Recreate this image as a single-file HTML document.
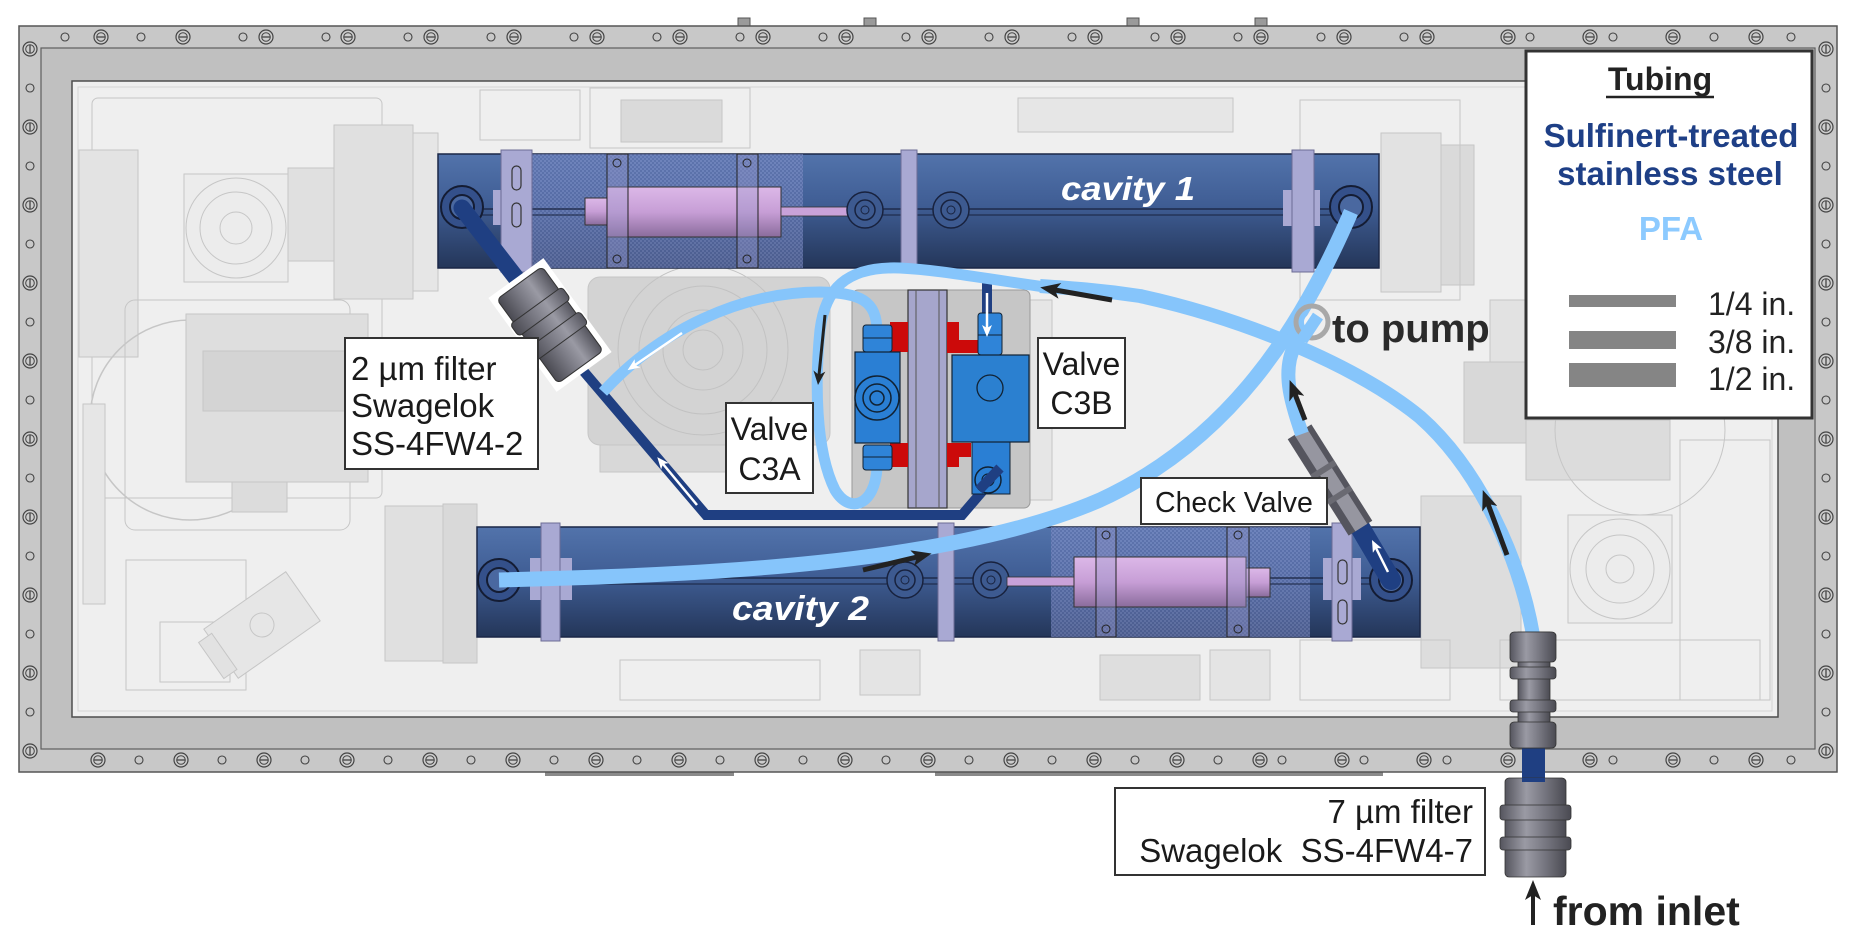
<!DOCTYPE html>
<html><head><meta charset="utf-8"><style>
html,body{margin:0;padding:0;background:#fff;}
svg{display:block;}
text{font-family:"Liberation Sans",Arial,sans-serif;}
</style></head><body>
<svg width="1856" height="945" viewBox="0 0 1856 945" xmlns="http://www.w3.org/2000/svg">
<defs>
<linearGradient id="cav" x1="0" y1="0" x2="0" y2="1">
<stop offset="0" stop-color="#5273ab"/><stop offset="0.45" stop-color="#3f5d94"/><stop offset="1" stop-color="#243659"/>
</linearGradient>
<linearGradient id="pink" x1="0" y1="0" x2="0" y2="1">
<stop offset="0" stop-color="#dcb8e8"/><stop offset="0.5" stop-color="#c79ed6"/><stop offset="1" stop-color="#8a6c9c"/>
</linearGradient>
<linearGradient id="metal" x1="0" y1="0" x2="1" y2="0">
<stop offset="0" stop-color="#55555e"/><stop offset="0.35" stop-color="#9a9aa4"/><stop offset="0.6" stop-color="#7c7c86"/><stop offset="1" stop-color="#4a4a52"/>
</linearGradient>
<linearGradient id="metalv" x1="0" y1="0" x2="0" y2="1">
<stop offset="0" stop-color="#55555e"/><stop offset="0.35" stop-color="#9a9aa4"/><stop offset="0.6" stop-color="#7c7c86"/><stop offset="1" stop-color="#4a4a52"/>
</linearGradient>
<pattern id="hatch" width="4" height="4" patternUnits="userSpaceOnUse"><rect width="4" height="4" fill="#6676b0"/><rect width="2" height="2" fill="#8290c8"/><rect x="2" y="2" width="2" height="2" fill="#8290c8"/></pattern>
<marker id="mb" viewBox="0 0 20 16" refX="5" refY="8" markerWidth="20" markerHeight="16" markerUnits="userSpaceOnUse" orient="auto"><path d="M0,0 L20,8 L0,16 L5,8 z" fill="#222"/></marker>
<marker id="mbs" viewBox="0 0 14 12" refX="4" refY="6" markerWidth="14" markerHeight="12" markerUnits="userSpaceOnUse" orient="auto"><path d="M0,0 L14,6 L0,12 L4,6 z" fill="#222"/></marker>
<marker id="mw" viewBox="0 0 12 10" refX="3" refY="5" markerWidth="12" markerHeight="10" markerUnits="userSpaceOnUse" orient="auto"><path d="M0,0 L12,5 L0,10 L3,5 z" fill="#fff"/></marker>
<g id="bh"><circle r="7" fill="#cdcdcd" stroke="#444" stroke-width="1.2"/><circle r="4.3" fill="none" stroke="#444" stroke-width="1"/><line x1="-4" x2="4" y1="0" y2="0" stroke="#444" stroke-width="1.3"/></g>
<g id="bv"><circle r="7" fill="#cdcdcd" stroke="#444" stroke-width="1.2"/><circle r="4.3" fill="none" stroke="#444" stroke-width="1"/><line y1="-4" y2="4" x1="0" x2="0" stroke="#444" stroke-width="1.3"/></g>
<circle id="o" r="4" fill="none" stroke="#444" stroke-width="1.1"/>
</defs>

<rect width="1856" height="945" fill="#fff"/>

<!-- small nubs above frame -->
<g fill="#9a9a9a" stroke="#555" stroke-width="1">
<rect x="738" y="18" width="12" height="8"/><rect x="864" y="18" width="12" height="8"/><rect x="1127" y="18" width="12" height="8"/><rect x="1255" y="18" width="12" height="8"/>
</g>
<!-- strips below frame -->
<rect x="545" y="772" width="189" height="4" fill="#8a8a8a"/>
<rect x="935" y="772" width="448" height="4" fill="#8a8a8a"/>

<!-- FRAME -->
<rect x="19" y="26" width="1818" height="746" fill="#c8c8c8" stroke="#555" stroke-width="1.5"/>
<rect x="41" y="48" width="1774" height="701" fill="#c0c0c0" stroke="#5e5e5e" stroke-width="1.2"/>
<rect x="72" y="81" width="1706" height="636" fill="#efefef" stroke="#4e4e4e" stroke-width="1.5"/>
<rect x="78" y="87" width="1694" height="624" fill="none" stroke="#d4d4d4" stroke-width="1"/>

<!-- bolts top -->
<g>
<use href="#o" x="65" y="37"/><use href="#o" x="141" y="37"/><use href="#o" x="243" y="37"/><use href="#o" x="326" y="37"/><use href="#o" x="408" y="37"/><use href="#o" x="491" y="37"/><use href="#o" x="574" y="37"/><use href="#o" x="657" y="37"/><use href="#o" x="740" y="37"/><use href="#o" x="823" y="37"/><use href="#o" x="906" y="37"/><use href="#o" x="989" y="37"/><use href="#o" x="1072" y="37"/><use href="#o" x="1155" y="37"/><use href="#o" x="1238" y="37"/><use href="#o" x="1321" y="37"/><use href="#o" x="1404" y="37"/><use href="#o" x="1530" y="37"/><use href="#o" x="1613" y="37"/><use href="#o" x="1714" y="37"/><use href="#o" x="1791" y="37"/>
<use href="#bh" x="101" y="37"/><use href="#bh" x="183" y="37"/><use href="#bh" x="266" y="37"/><use href="#bh" x="348" y="37"/><use href="#bh" x="431" y="37"/><use href="#bh" x="514" y="37"/><use href="#bh" x="597" y="37"/><use href="#bh" x="680" y="37"/><use href="#bh" x="763" y="37"/><use href="#bh" x="846" y="37"/><use href="#bh" x="929" y="37"/><use href="#bh" x="1012" y="37"/><use href="#bh" x="1095" y="37"/><use href="#bh" x="1178" y="37"/><use href="#bh" x="1261" y="37"/><use href="#bh" x="1344" y="37"/><use href="#bh" x="1427" y="37"/><use href="#bh" x="1508" y="37"/><use href="#bh" x="1590" y="37"/><use href="#bh" x="1673" y="37"/><use href="#bh" x="1756" y="37"/>
</g>
<!-- bolts bottom -->
<g>
<use href="#bh" x="98" y="760"/><use href="#bh" x="181" y="760"/><use href="#bh" x="264" y="760"/><use href="#bh" x="347" y="760"/><use href="#bh" x="430" y="760"/><use href="#bh" x="513" y="760"/><use href="#bh" x="596" y="760"/><use href="#bh" x="679" y="760"/><use href="#bh" x="762" y="760"/><use href="#bh" x="845" y="760"/><use href="#bh" x="928" y="760"/><use href="#bh" x="1011" y="760"/><use href="#bh" x="1094" y="760"/><use href="#bh" x="1177" y="760"/><use href="#bh" x="1260" y="760"/><use href="#bh" x="1342" y="760"/><use href="#bh" x="1424" y="760"/><use href="#bh" x="1508" y="760"/><use href="#bh" x="1590" y="760"/><use href="#bh" x="1673" y="760"/><use href="#bh" x="1756" y="760"/>
<use href="#o" x="139" y="760"/><use href="#o" x="222" y="760"/><use href="#o" x="305" y="760"/><use href="#o" x="388" y="760"/><use href="#o" x="471" y="760"/><use href="#o" x="554" y="760"/><use href="#o" x="637" y="760"/><use href="#o" x="720" y="760"/><use href="#o" x="803" y="760"/><use href="#o" x="886" y="760"/><use href="#o" x="969" y="760"/><use href="#o" x="1052" y="760"/><use href="#o" x="1135" y="760"/><use href="#o" x="1218" y="760"/><use href="#o" x="1282" y="760"/><use href="#o" x="1364" y="760"/><use href="#o" x="1447" y="760"/><use href="#o" x="1613" y="760"/><use href="#o" x="1714" y="760"/><use href="#o" x="1791" y="760"/>
</g>
<!-- bolts left/right -->
<g>
<use href="#bv" x="30" y="49"/><use href="#bv" x="30" y="127"/><use href="#bv" x="30" y="205"/><use href="#bv" x="30" y="283"/><use href="#bv" x="30" y="361"/><use href="#bv" x="30" y="439"/><use href="#bv" x="30" y="517"/><use href="#bv" x="30" y="595"/><use href="#bv" x="30" y="673"/><use href="#bv" x="30" y="751"/>
<use href="#o" x="30" y="88"/><use href="#o" x="30" y="166"/><use href="#o" x="30" y="244"/><use href="#o" x="30" y="322"/><use href="#o" x="30" y="400"/><use href="#o" x="30" y="478"/><use href="#o" x="30" y="556"/><use href="#o" x="30" y="634"/><use href="#o" x="30" y="712"/>
<use href="#bv" x="1826" y="49"/><use href="#bv" x="1826" y="127"/><use href="#bv" x="1826" y="205"/><use href="#bv" x="1826" y="283"/><use href="#bv" x="1826" y="361"/><use href="#bv" x="1826" y="439"/><use href="#bv" x="1826" y="517"/><use href="#bv" x="1826" y="595"/><use href="#bv" x="1826" y="673"/><use href="#bv" x="1826" y="751"/>
<use href="#o" x="1826" y="88"/><use href="#o" x="1826" y="166"/><use href="#o" x="1826" y="244"/><use href="#o" x="1826" y="322"/><use href="#o" x="1826" y="400"/><use href="#o" x="1826" y="478"/><use href="#o" x="1826" y="556"/><use href="#o" x="1826" y="634"/><use href="#o" x="1826" y="712"/>
</g>

<!-- BACKGROUND COMPONENTS (faint) -->
<g stroke="#c6c6c6" stroke-width="1">
<rect x="92" y="98" width="290" height="400" rx="6" fill="none"/>
<rect x="79" y="150" width="59" height="207" fill="#e3e3e3"/>
<rect x="184" y="174" width="104" height="108" fill="#ececec"/>
<circle cx="236" cy="228" r="50" fill="none"/><circle cx="236" cy="228" r="36" fill="none"/><circle cx="236" cy="228" r="16" fill="none"/>
<rect x="288" y="168" width="46" height="93" fill="#e0e0e0"/>
<rect x="334" y="125" width="79" height="174" fill="#e0e0e0"/>
<rect x="413" y="133" width="25" height="158" fill="#e6e6e6"/>
<circle cx="190" cy="420" r="100" fill="none" stroke-width="1.5"/>
<rect x="125" y="300" width="225" height="230" rx="10" fill="none"/>
<rect x="186" y="314" width="182" height="168" fill="#dedede"/>
<rect x="203" y="351" width="165" height="60" fill="#d4d4d4"/>
<rect x="232" y="482" width="55" height="30" fill="#dcdcdc"/>
<rect x="83" y="404" width="22" height="200" fill="#e6e6e6"/>
<rect x="126" y="560" width="120" height="130" fill="none"/>
<rect x="160" y="622" width="70" height="60" fill="none"/>
<g transform="translate(262,625) rotate(-35)"><rect x="-50" y="-30" width="100" height="60" fill="#e6e6e6"/><rect x="-62" y="-22" width="16" height="44" fill="#e2e2e2"/><circle r="12" fill="none"/></g>
<rect x="385" y="506" width="58" height="155" fill="#e0e0e0"/>
<rect x="443" y="504" width="34" height="159" fill="#d9d9d9"/>
<rect x="588" y="277" width="242" height="168" rx="12" fill="#d3d3d3"/>
<circle cx="703" cy="350" r="85" fill="none" stroke="#c2c2c2"/><circle cx="703" cy="350" r="64" fill="none" stroke="#c2c2c2"/><circle cx="703" cy="350" r="40" fill="none" stroke="#c2c2c2"/><circle cx="703" cy="350" r="20" fill="none" stroke="#c2c2c2"/>
<rect x="600" y="445" width="210" height="27" fill="#d8d8d8"/>
<rect x="621" y="100" width="101" height="42" fill="#dadada"/>
<rect x="590" y="88" width="160" height="60" fill="none"/>
<rect x="1018" y="98" width="215" height="34" fill="#e6e6e6"/>
<rect x="480" y="90" width="100" height="50" fill="none"/>
<rect x="1381" y="133" width="60" height="159" fill="#e2e2e2"/>
<rect x="1441" y="145" width="33" height="140" fill="#dadada"/>
<rect x="1300" y="100" width="160" height="200" fill="none"/>
<rect x="1464" y="362" width="62" height="81" fill="#d8d8d8"/>
<rect x="1490" y="300" width="36" height="62" fill="#e2e2e2"/>
<rect x="1526" y="420" width="144" height="60" fill="#dcdcdc"/>
<rect x="1421" y="496" width="100" height="172" fill="#dddddd"/>
<rect x="1568" y="515" width="104" height="108" fill="#ececec"/>
<circle cx="1620" cy="569" r="50" fill="none"/><circle cx="1620" cy="569" r="34" fill="none"/><circle cx="1620" cy="569" r="14" fill="none"/>
<circle cx="1640" cy="430" r="85" fill="none"/>
<rect x="1100" y="655" width="100" height="45" fill="#dedede"/>
<rect x="1210" y="650" width="60" height="50" fill="#e4e4e4"/>
<rect x="860" y="650" width="60" height="45" fill="#e4e4e4"/>
<rect x="620" y="660" width="200" height="40" fill="none"/>
<rect x="1300" y="640" width="150" height="60" fill="none"/>
<rect x="1030" y="300" width="22" height="200" fill="#e6e6e6"/>
<rect x="1500" y="640" width="260" height="60" fill="none"/>
<rect x="1680" y="440" width="90" height="260" fill="none"/>
</g>

<!-- CAVITY 1 -->
<g>
<rect x="438" y="154" width="941" height="114" fill="url(#cav)" stroke="#1a2747" stroke-width="1.5"/>
<rect x="532" y="154" width="271" height="114" fill="url(#hatch)" opacity="0.6"/>
<line x1="470" y1="209" x2="1345" y2="209" stroke="#18223e" stroke-width="1.2"/>
<line x1="470" y1="215" x2="1345" y2="215" stroke="#18223e" stroke-width="1"/>
<rect x="493" y="190" width="17" height="35" fill="#a9a9d3"/>
<rect x="501" y="150" width="31" height="122" fill="#a9a9d3" stroke="#6c6c96" stroke-width="1"/>
<rect x="512" y="166" width="9" height="24" rx="4.5" fill="none" stroke="#333" stroke-width="1.2"/>
<rect x="512" y="203" width="9" height="24" rx="4.5" fill="none" stroke="#333" stroke-width="1.2"/>
<rect x="607" y="187" width="174" height="50" fill="url(#pink)" stroke="#333" stroke-width="1"/>
<rect x="585" y="198" width="22" height="27" fill="url(#pink)" stroke="#333" stroke-width="1"/>
<rect x="781" y="207" width="69" height="9" fill="#c9a2d9" stroke="#333" stroke-width="0.8"/>
<rect x="607" y="154" width="21" height="114" fill="rgba(150,150,200,0.35)" stroke="#222" stroke-width="1"/>
<rect x="737" y="154" width="21" height="114" fill="rgba(150,150,200,0.35)" stroke="#222" stroke-width="1"/>
<circle cx="617" cy="163" r="4" fill="none" stroke="#222"/><circle cx="617" cy="259" r="4" fill="none" stroke="#222"/>
<circle cx="747" cy="163" r="4" fill="none" stroke="#222"/><circle cx="747" cy="259" r="4" fill="none" stroke="#222"/>
<circle cx="865" cy="210" r="18" fill="#3d5a90" stroke="#18223e" stroke-width="1.5"/><circle cx="865" cy="210" r="10" fill="none" stroke="#18223e" stroke-width="1.5"/><circle cx="865" cy="210" r="4" fill="none" stroke="#18223e"/>
<circle cx="951" cy="210" r="18" fill="#3d5a90" stroke="#18223e" stroke-width="1.5"/><circle cx="951" cy="210" r="10" fill="none" stroke="#18223e" stroke-width="1.5"/><circle cx="951" cy="210" r="4" fill="none" stroke="#18223e"/>
<rect x="901" y="150" width="16" height="122" fill="#a9a9d3" stroke="#6c6c96" stroke-width="1"/>
<rect x="1283" y="190" width="37" height="36" fill="#a9a9d3"/>
<rect x="1292" y="150" width="22" height="122" fill="#a9a9d3" stroke="#6c6c96" stroke-width="1"/>
<circle cx="462" cy="207" r="21" fill="#34508a" stroke="#141c33" stroke-width="2"/><circle cx="462" cy="207" r="12" fill="#4a68a0" stroke="#141c33" stroke-width="2"/>
<circle cx="1351" cy="207" r="21" fill="#34508a" stroke="#141c33" stroke-width="2"/><circle cx="1351" cy="207" r="12" fill="#4a68a0" stroke="#141c33" stroke-width="2"/>
<text x="1061" y="200" font-size="33" font-weight="bold" font-style="italic" fill="#fff" textLength="134" lengthAdjust="spacingAndGlyphs">cavity 1</text>
</g>

<!-- CAVITY 2 -->
<g>
<rect x="477" y="527" width="943" height="110" fill="url(#cav)" stroke="#1a2747" stroke-width="1.5"/>
<rect x="1051" y="527" width="259" height="110" fill="url(#hatch)" opacity="0.6"/>
<line x1="510" y1="578" x2="1380" y2="578" stroke="#18223e" stroke-width="1.2"/>
<line x1="510" y1="584" x2="1380" y2="584" stroke="#18223e" stroke-width="1"/>
<rect x="530" y="558" width="42" height="42" fill="#a9a9d3"/>
<rect x="541" y="523" width="19" height="118" fill="#a9a9d3" stroke="#6c6c96" stroke-width="1"/>
<rect x="938" y="523" width="16" height="118" fill="#a9a9d3" stroke="#6c6c96" stroke-width="1"/>
<circle cx="905" cy="580" r="18" fill="#3d5a90" stroke="#18223e" stroke-width="1.5"/><circle cx="905" cy="580" r="10" fill="none" stroke="#18223e" stroke-width="1.5"/><circle cx="905" cy="580" r="4" fill="none" stroke="#18223e"/>
<circle cx="991" cy="580" r="18" fill="#3d5a90" stroke="#18223e" stroke-width="1.5"/><circle cx="991" cy="580" r="10" fill="none" stroke="#18223e" stroke-width="1.5"/><circle cx="991" cy="580" r="4" fill="none" stroke="#18223e"/>
<rect x="1007" y="577" width="67" height="9" fill="#c9a2d9" stroke="#333" stroke-width="0.8"/>
<rect x="1074" y="557" width="172" height="50" fill="url(#pink)" stroke="#333" stroke-width="1"/>
<rect x="1246" y="568" width="24" height="29" fill="url(#pink)" stroke="#333" stroke-width="1"/>
<rect x="1096" y="527" width="20" height="110" fill="rgba(150,150,200,0.35)" stroke="#222" stroke-width="1"/>
<rect x="1227" y="527" width="22" height="110" fill="rgba(150,150,200,0.35)" stroke="#222" stroke-width="1"/>
<circle cx="1106" cy="535" r="4" fill="none" stroke="#222"/><circle cx="1106" cy="629" r="4" fill="none" stroke="#222"/>
<circle cx="1238" cy="535" r="4" fill="none" stroke="#222"/><circle cx="1238" cy="629" r="4" fill="none" stroke="#222"/>
<rect x="1323" y="558" width="38" height="42" fill="#a9a9d3"/>
<rect x="1332" y="523" width="20" height="118" fill="#a9a9d3" stroke="#6c6c96" stroke-width="1"/>
<rect x="1338" y="560" width="9" height="24" rx="4.5" fill="none" stroke="#333" stroke-width="1.2"/>
<rect x="1338" y="600" width="9" height="24" rx="4.5" fill="none" stroke="#333" stroke-width="1.2"/>
<circle cx="499" cy="580" r="21" fill="#34508a" stroke="#141c33" stroke-width="2"/><circle cx="499" cy="580" r="12" fill="#4a68a0" stroke="#141c33" stroke-width="2"/>
<circle cx="1391" cy="580" r="21" fill="#34508a" stroke="#141c33" stroke-width="2"/><circle cx="1391" cy="580" r="12" fill="#4a68a0" stroke="#141c33" stroke-width="2"/>
<text x="732" y="620" font-size="34" font-weight="bold" font-style="italic" fill="#fff" textLength="137" lengthAdjust="spacingAndGlyphs">cavity 2</text>
</g>

<!-- VALVE PLATE -->
<rect x="852" y="290" width="178" height="218" rx="6" fill="#c6c6c6" stroke="#9a9a9a" stroke-width="1"/>

<!-- DARK TUBES -->
<g fill="none" stroke="#1f3f82" stroke-linejoin="miter">
<line x1="462" y1="208" x2="520" y2="283" stroke-width="17" stroke-linecap="round"/>
<polyline points="580,367 706,515 962,515 992,480" stroke-width="10"/>
<rect x="982" y="283" width="10" height="36" fill="#1f3f82" stroke="none"/>
<line x1="1391" y1="580" x2="1358" y2="524" stroke-width="20" stroke-linecap="round"/>
<rect x="1522" y="745" width="23" height="37" fill="#1f3f82" stroke="none"/>
</g>

<!-- 2 um filter -->
<g transform="translate(550,325) rotate(54)">
<rect x="-58" y="-34" width="116" height="68" fill="#fff"/>
<rect x="-52" y="-28" width="104" height="56" rx="5" fill="url(#metalv)" stroke="#333" stroke-width="1"/>
<rect x="-24" y="-32" width="15" height="64" rx="4" fill="url(#metalv)" stroke="#333" stroke-width="1"/>
<rect x="6" y="-32" width="15" height="64" rx="4" fill="url(#metalv)" stroke="#333" stroke-width="1"/>
</g>

<!-- check valve -->
<g transform="translate(1330,480) rotate(57.7)">
<rect x="-57" y="-14" width="114" height="28" fill="#55555e"/>
<rect x="-57" y="-8" width="114" height="14" fill="#9696a0"/>
<rect x="-15" y="-14" width="6" height="28" fill="#6a6a72"/>
<rect x="15" y="-14" width="6" height="28" fill="#6a6a72"/>
</g>

<!-- PFA TUBES -->
<g fill="none" stroke="#86c5fb" stroke-linecap="butt">
<!-- tube C: cavity2 -> cavity1 -->
<path d="M499,580 C700,575 950,565 1100,500 C1230,440 1300,330 1351,212" stroke-width="15"/>
<!-- tube B: inlet -> C3A bottom -->
<path d="M1533,635 C1520,560 1480,470 1420,417 C1360,368 1250,320 1140,296 C1100,290 1070,288 1040,286" stroke-width="14"/>
<path d="M1045,287 C980,278 940,270 900,268 C845,266 825,290 820,330 C815,380 815,450 835,490 C850,515 875,505 877,468" stroke-width="11"/>
<!-- tube A: C3A top -> junction -->
<path d="M877,332 C877,300 860,293 820,292 C740,292 660,330 603,392" stroke-width="11"/>
<!-- check valve to pump -->
<path d="M1302,434 C1290,400 1282,370 1295,345 C1303,330 1308,326 1314,320" stroke-width="14"/>
</g>
<!-- pump port -->
<circle cx="1312" cy="322" r="16" fill="none" stroke="#a8a8a8" stroke-width="5"/>
<circle cx="1312" cy="322" r="8" fill="#f4f4f4"/>
<path d="M1302,340 L1318,316" stroke="#86c5fb" stroke-width="12"/>

<!-- VALVES -->
<g>
<rect x="908" y="290" width="39" height="218" fill="#a6a6cc" stroke="#333" stroke-width="1.2"/>
<line x1="916" y1="290" x2="916" y2="508" stroke="#555" stroke-width="1"/>
<line x1="939" y1="290" x2="939" y2="508" stroke="#555" stroke-width="1"/>
<rect x="890" y="322" width="18" height="30" fill="#cc0a0a"/>
<rect x="890" y="443" width="18" height="24" fill="#cc0a0a"/>
<rect x="947" y="322" width="12" height="30" fill="#cc0a0a"/>
<rect x="947" y="340" width="33" height="13" fill="#cc0a0a"/>
<rect x="947" y="443" width="24" height="14" fill="#cc0a0a"/>
<rect x="947" y="443" width="12" height="24" fill="#cc0a0a"/>
<!-- C3A -->
<rect x="863" y="325" width="29" height="27" rx="3" fill="#2f84d8" stroke="#123" stroke-width="1"/>
<line x1="863" y1="338" x2="892" y2="338" stroke="#123"/>
<rect x="855" y="352" width="45" height="91" fill="#2a7fd4" stroke="#123" stroke-width="1.2"/>
<circle cx="877" cy="398" r="22" fill="#2a7fd4" stroke="#123" stroke-width="1.5"/>
<circle cx="877" cy="398" r="14" fill="none" stroke="#123" stroke-width="1.5"/>
<circle cx="877" cy="398" r="7" fill="none" stroke="#123" stroke-width="1.5"/>
<rect x="863" y="445" width="29" height="25" rx="3" fill="#2f84d8" stroke="#123" stroke-width="1"/>
<line x1="863" y1="457" x2="892" y2="457" stroke="#123"/>
<!-- C3B -->
<rect x="978" y="313" width="24" height="42" rx="3" fill="#2f84d8" stroke="#123" stroke-width="1"/>
<line x1="978" y1="335" x2="1002" y2="335" stroke="#123"/>
<rect x="972" y="442" width="38" height="52" fill="#2a7fd4" stroke="#123" stroke-width="1"/>
<rect x="952" y="355" width="77" height="87" fill="#2b80d0" stroke="#123" stroke-width="1.2"/>
<circle cx="990" cy="388" r="13" fill="none" stroke="#123" stroke-width="1.3"/>
<circle cx="988" cy="480" r="13" fill="#2a7fd4" stroke="#123" stroke-width="1.5"/>
<circle cx="988" cy="480" r="6" fill="none" stroke="#123" stroke-width="1.2"/>
<line x1="979" y1="490" x2="1000" y2="468" stroke="#1f3f82" stroke-width="10"/>
</g>

<!-- inlet fittings -->
<g>
<rect x="1518" y="632" width="32" height="116" fill="url(#metal)" stroke="#333" stroke-width="0.8"/>
<rect x="1510" y="632" width="46" height="30" rx="4" fill="url(#metal)" stroke="#333" stroke-width="0.8"/>
<rect x="1510" y="667" width="46" height="12" rx="3" fill="url(#metal)" stroke="#333" stroke-width="0.8"/>
<rect x="1510" y="700" width="46" height="12" rx="3" fill="url(#metal)" stroke="#333" stroke-width="0.8"/>
<rect x="1510" y="722" width="46" height="26" rx="4" fill="url(#metal)" stroke="#333" stroke-width="0.8"/>
<rect x="1505" y="778" width="61" height="99" rx="4" fill="url(#metal)" stroke="#333" stroke-width="0.8"/>
<rect x="1500" y="805" width="71" height="15" rx="3" fill="url(#metal)" stroke="#333" stroke-width="0.8"/>
<rect x="1500" y="837" width="71" height="13" rx="3" fill="url(#metal)" stroke="#333" stroke-width="0.8"/>
<rect x="1522" y="778" width="23" height="4" fill="#1f3f82"/>
</g>

<!-- ARROWS -->
<g fill="none">
<line x1="1112" y1="300" x2="1055" y2="290" stroke="#222" stroke-width="5" marker-end="url(#mb)"/>
<line x1="863" y1="570" x2="917" y2="557" stroke="#222" stroke-width="5" marker-end="url(#mb)"/>
<line x1="1305" y1="420" x2="1295" y2="394" stroke="#222" stroke-width="5" marker-end="url(#mb)"/>
<line x1="1507" y1="555" x2="1488" y2="504" stroke="#222" stroke-width="5" marker-end="url(#mb)"/>
<line x1="1533" y1="925" x2="1533" y2="895" stroke="#222" stroke-width="4" marker-end="url(#mb)"/>
<line x1="825" y1="315" x2="819" y2="375" stroke="#222" stroke-width="3" marker-end="url(#mbs)"/>
<line x1="682" y1="333" x2="635" y2="365" stroke="#fff" stroke-width="2.5" marker-end="url(#mw)"/>
<line x1="697" y1="505" x2="663" y2="464" stroke="#fff" stroke-width="2.5" marker-end="url(#mw)"/>
<line x1="1388" y1="572" x2="1376" y2="548" stroke="#fff" stroke-width="2.5" marker-end="url(#mw)"/>
<line x1="987" y1="293" x2="987" y2="328" stroke="#fff" stroke-width="2.5" marker-end="url(#mw)"/>
</g>

<!-- LABEL BOXES -->
<g font-size="33" fill="#1a1a1a">
<rect x="345" y="338" width="193" height="131" fill="#fff" stroke="#333" stroke-width="2"/>
<text x="351" y="380">2 µm filter</text>
<text x="351" y="417">Swagelok</text>
<text x="351" y="455">SS-4FW4-2</text>

<rect x="726" y="403" width="87" height="90" fill="#fff" stroke="#333" stroke-width="2"/>
<text x="769.5" y="440" text-anchor="middle" font-size="32">Valve</text>
<text x="769.5" y="480" text-anchor="middle" font-size="32">C3A</text>

<rect x="1038" y="338" width="87" height="90" fill="#fff" stroke="#333" stroke-width="2"/>
<text x="1081.5" y="375" text-anchor="middle" font-size="32">Valve</text>
<text x="1081.5" y="414" text-anchor="middle" font-size="32">C3B</text>

<rect x="1141" y="478" width="186" height="46" fill="#fff" stroke="#333" stroke-width="2"/>
<text x="1155" y="512" font-size="28.5">Check Valve</text>

<rect x="1115" y="788" width="370" height="87" fill="#fff" stroke="#333" stroke-width="2"/>
<text x="1473" y="823" text-anchor="end">7 µm filter</text>
<text x="1473" y="862" text-anchor="end" style="white-space:pre">Swagelok  SS-4FW4-7</text>
</g>

<text x="1332" y="342" font-size="40" font-weight="bold" fill="#2a2a2a">to pump</text>
<text x="1553" y="925" font-size="41" font-weight="bold" fill="#222">from inlet</text>

<!-- LEGEND -->
<g>
<rect x="1526" y="51" width="286" height="367" fill="#fff" stroke="#333" stroke-width="3"/>
<text x="1660" y="90" text-anchor="middle" font-size="32" font-weight="bold" fill="#222">Tubing</text>
<line x1="1606" y1="97" x2="1714" y2="97" stroke="#222" stroke-width="2.5"/>
<text x="1671" y="147" text-anchor="middle" font-size="33" font-weight="bold" fill="#1e3f86">Sulfinert-treated</text>
<text x="1670" y="185" text-anchor="middle" font-size="33" font-weight="bold" fill="#1e3f86">stainless steel</text>
<text x="1671" y="240" text-anchor="middle" font-size="33" font-weight="bold" fill="#8ccaff">PFA</text>
<rect x="1569" y="295" width="107" height="12" fill="#858585"/>
<rect x="1569" y="331" width="107" height="18" fill="#858585"/>
<rect x="1569" y="363" width="107" height="24" fill="#858585"/>
<text x="1708" y="315" font-size="32" fill="#222">1/4 in.</text>
<text x="1708" y="353" font-size="32" fill="#222">3/8 in.</text>
<text x="1708" y="390" font-size="32" fill="#222">1/2 in.</text>
</g>
</svg>
</body></html>
